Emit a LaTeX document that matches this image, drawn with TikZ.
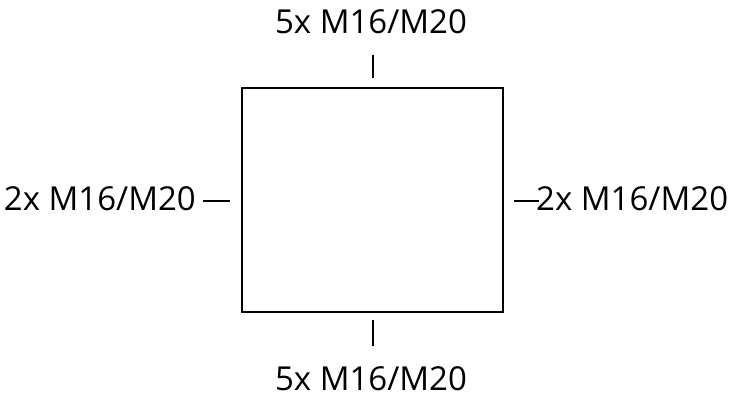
\documentclass[tikz,border=0pt]{standalone}
\usepackage{fontspec}
\setmainfont{Open Sans}
\begin{document}
\begin{tikzpicture}[x=1pt,y=-1pt,
  lbl/.style={inner sep=0pt,font=\fontsize{33}{38}\selectfont},
  tick/.style={line width=2pt}]
\useasboundingbox (0,0) rectangle (741,400);
\node[draw,line width=2pt,minimum width=261pt,minimum height=224pt,inner sep=0pt] (box) at (372,199.5) {};
\node[lbl,anchor=base] (top) at (371,33) {5x M16/M20};
\node[lbl,anchor=base] (bot) at (371,390) {5x M16/M20};
\node[lbl,anchor=base west] (right) at (536,210) {2x M16/M20};
\node[lbl,anchor=base east] (left) at (196,210) {2x M16/M20};
\coordinate (t1) at (373,55); \coordinate (t2) at (373,78);
\coordinate (b1) at (373,320); \coordinate (b2) at (373,346);
\coordinate (l1) at (203,201); \coordinate (l2) at (230,201);
\coordinate (r1) at (514,201); \coordinate (r2) at (539,201);
\draw[tick] (t1) -- (t2);
\draw[tick] (b1) -- (b2);
\draw[tick] (l1) -- (l2);
\draw[tick] (r1) -- (r2);
\end{tikzpicture}
\end{document}
